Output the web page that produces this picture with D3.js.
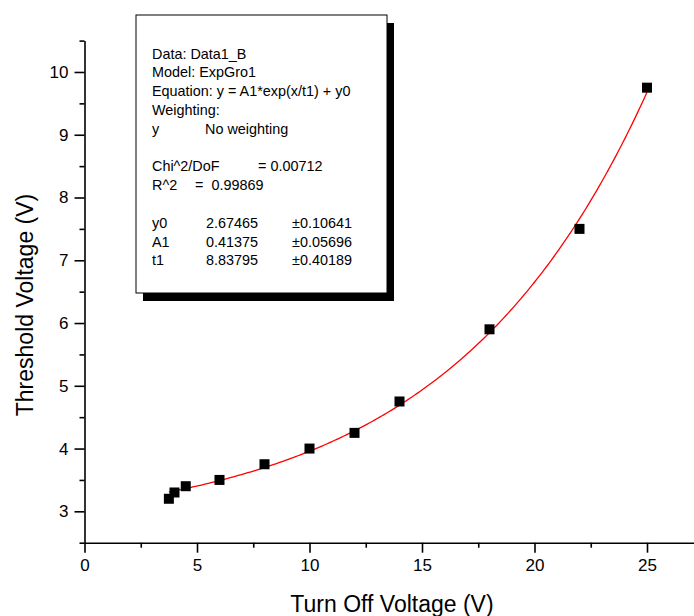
<!DOCTYPE html>
<html>
<head>
<meta charset="utf-8">
<script src="https://cdn.jsdelivr.net/npm/d3@7/dist/d3.min.js"></script>
<style>
  html, body { margin: 0; padding: 0; background: #fff; }
  svg { display: block; }
</style>
</head>
<body>
<svg id="chart" width="694" height="616"></svg>
<script>
// Measured points: turn-off voltage vs threshold voltage
const turnOffVoltage   = [3.75, 4, 4.5, 6, 8, 10, 12, 14, 18, 22, 25];
const thresholdVoltage = [3.2, 3.3, 3.4, 3.5, 3.75, 4.0, 4.25, 4.75, 5.9, 7.5, 9.75];

// Exponential growth fit parameters (ExpGro1)
const fitNames  = ["y0", "A1", "t1"];
const fitValues = [2.67465, 0.41375, 8.83795];
const fitErrors = ["±0.10641", "±0.05696", "±0.40189"];
const fitChi2   = "0.00712";
const fitR2     = "0.99869";

// Axis ticks
const xMajorTicks = [0, 5, 10, 15, 20, 25];
const xMinorTicks = [2.5, 7.5, 12.5, 17.5, 22.5];
const yMajorTicks = [3, 4, 5, 6, 7, 8, 9, 10];
const yMinorTicks = [2.5, 3.5, 4.5, 5.5, 6.5, 7.5, 8.5, 9.5, 10.5];

const svg = d3.select("#chart");
const font = "'Liberation Sans', Arial, sans-serif";

const x = d3.scaleLinear().domain([0, 27.2]).range([84.5, 84.5 + 27.2 * 22.5]);
const y = d3.scaleLinear().domain([2.5, 10.5]).range([542.7, 40.6]);

const x0 = x(0), yBase = y(2.5);

// X axis
const gx = svg.append("g").attr("transform", `translate(0,${yBase})`);
gx.call(d3.axisBottom(x).tickValues(xMajorTicks).tickSize(10).tickSizeOuter(0).tickPadding(6).tickFormat(d3.format("d")));
gx.append("g").call(d3.axisBottom(x).tickValues(xMinorTicks).tickSize(5).tickFormat(""))
  .select(".domain").remove();

// Y axis
const gy = svg.append("g").attr("transform", `translate(${x0},0)`);
gy.call(d3.axisLeft(y).tickValues(yMajorTicks).tickSize(10).tickSizeOuter(0).tickPadding(6).tickFormat(d3.format("d")));
gy.append("g").call(d3.axisLeft(y).tickValues(yMinorTicks).tickSize(5).tickFormat(""))
  .select(".domain").remove();

svg.selectAll(".domain").attr("stroke", "#000").attr("stroke-width", 1.6);
svg.selectAll(".tick line").attr("stroke", "#000").attr("stroke-width", 1.6);
svg.selectAll(".tick text").attr("fill", "#000").style("font-family", font).style("font-size", "17px");

// Axis titles
svg.append("text")
  .attr("x", 392).attr("y", 612)
  .attr("text-anchor", "middle")
  .style("font-family", font).style("font-size", "23px")
  .text("Turn Off Voltage (V)");

svg.append("text")
  .attr("transform", "translate(33,305) rotate(-90)")
  .attr("text-anchor", "middle")
  .style("font-family", font).style("font-size", "23px")
  .text("Threshold Voltage (V)");

// Fitted curve y = A1*exp(x/t1) + y0 over the measured range
const [py0, pA1, pt1] = fitValues;
const xMin = d3.min(turnOffVoltage), xMax = d3.max(turnOffVoltage);
const curveX = d3.range(0, 201).map(i => xMin + (xMax - xMin) * i / 200);
svg.append("path")
  .datum(curveX)
  .attr("fill", "none")
  .attr("stroke", "#ff0000")
  .attr("stroke-width", 1.3)
  .attr("d", d3.line().x(d => x(d)).y(d => y(pA1 * Math.exp(d / pt1) + py0)));

// Data markers
const size = 10;
svg.append("g").selectAll("rect")
  .data(turnOffVoltage.map((v, i) => [v, thresholdVoltage[i]]))
  .join("rect")
  .attr("x", d => x(d[0]) - size / 2)
  .attr("y", d => y(d[1]) - size / 2)
  .attr("width", size).attr("height", size)
  .attr("fill", "#000");

// Fit report box with drop shadow
const box = { left: 136, top: 15, right: 387, bottom: 293 };
svg.append("rect")
  .attr("x", box.left + 7).attr("y", box.top + 8)
  .attr("width", box.right - box.left).attr("height", box.bottom - box.top)
  .attr("fill", "#000");
svg.append("rect")
  .attr("x", box.left).attr("y", box.top)
  .attr("width", box.right - box.left).attr("height", box.bottom - box.top)
  .attr("fill", "#fff").attr("stroke", "#000").attr("stroke-width", 1);

const lineH = 18.8, base = 58.5, col0 = 152;
const rows = [
  [[col0, "Data: Data1_B"]],
  [[col0, "Model: ExpGro1"]],
  [[col0, "Equation: y = A1*exp(x/t1) + y0"]],
  [[col0, "Weighting:"]],
  [[col0, "y"], [205, "No weighting"]],
  [],
  [[col0, "Chi^2/DoF"], [258, "= " + fitChi2]],
  [[col0, "R^2"], [195, "=  " + fitR2]],
  []
];
fitNames.forEach((n, i) => {
  rows.push([[col0, n], [206, fitValues[i].toFixed(5)], [292, fitErrors[i]]]);
});

const tg = svg.append("g").style("font-family", font).style("font-size", "14.4px").attr("fill", "#000");
rows.forEach((row, r) => {
  row.forEach(([cx, t]) => {
    tg.append("text").attr("x", cx).attr("y", base + r * lineH).attr("xml:space", "preserve").text(t);
  });
});
</script>
</body>
</html>
